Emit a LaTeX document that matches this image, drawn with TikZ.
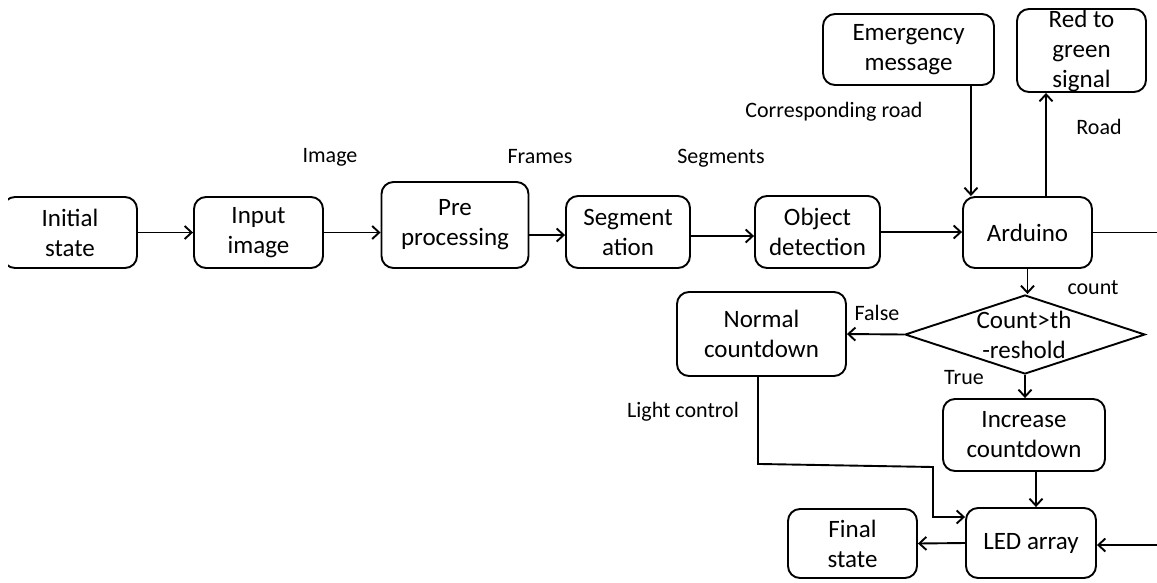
\documentclass[tikz,border=0pt]{standalone}
\usepackage{fontspec}
\setmainfont{Carlito}
\usetikzlibrary{shapes.geometric,arrows.meta}

\begin{document}
\begin{tikzpicture}[x=1pt, y=-1pt]
            \tikzstyle{block} = [draw, line width=1.9pt, rounded corners=12pt, inner sep=0pt, align=center, font=\fontsize{25}{30}\selectfont]
            \tikzstyle{decision} = [draw, diamond, line width=1.9pt, inner sep=0pt, minimum width=240pt, minimum height=79pt]
            \tikzstyle{tag} = [inner sep=0pt, font=\fontsize{22}{26}\selectfont]
            \tikzstyle{arrow} = [-{Straight Barb[length=7pt, width=13pt, line width=1.9pt]}, line width=1.9pt]
            \tikzstyle{line} = [line width=1.9pt]

            \useasboundingbox (0,0) rectangle (1157,582);
            \clip (8,0) rectangle (1157,582);

            % Main pipeline
            \node[block, minimum width=134pt, minimum height=71pt] (init) at (70,232.5) {Initial\\state};
            \node[block, minimum width=129pt, minimum height=71pt] (input) at (258.5,232.5) {Input\\image};
            \node[block, minimum width=147pt, minimum height=86pt] (pre) at (455,225) {Pre\\processing};
            \node[block, minimum width=124pt, minimum height=72pt] (seg) at (628,232) {Segment\\ation};
            \node[block, minimum width=125pt, minimum height=72pt] (obj) at (817.5,232) {Object\\detection};
            \node[block, minimum width=129pt, minimum height=71pt] (ard) at (1027.5,232.5) {Arduino};

            % Top boxes
            \node[block, minimum width=171pt, minimum height=71pt] (emerg) at (908.5,49.5) {Emergency\\message};
            \node[block, minimum width=129pt, minimum height=83pt] (red) at (1081.5,50.5) {Red to\\green\\signal};

            % Decision part
            \node[decision] (dia) at (1025,334.5) {};
            \node[block, draw=none, fill=none] (diatext) at (1024,335) {Count>th\\-reshold};
            \node[block, minimum width=169pt, minimum height=84pt] (norm) at (761.5,334) {Normal\\countdown};
            \node[block, minimum width=162pt, minimum height=72pt] (inc) at (1024,435) {Increase\\countdown};
            \node[block, minimum width=130pt, minimum height=70pt] (led) at (1031,543) {LED array};
            \node[block, minimum width=129pt, minimum height=69pt] (fin) at (852.5,543.5) {Final\\state};

            \coordinate (ardout) at (1160,232.5);
            \coordinate (ledin) at (1160,545);
            \coordinate (lc1) at (933,467);

            % Arrows
            \draw[arrow] (init) -- (input);
            \draw[arrow] (input.east) -- (input.east -| pre.west);
            \draw[arrow] ([yshift=-10pt]pre.east) -- ([yshift=-10pt]pre.east -| seg.west);
            \draw[arrow] ([yshift=-4pt]seg.east) -- ([yshift=-4pt]seg.east -| obj.west);
            \draw[arrow] (obj.east) -- (obj.east -| ard.west);
            \draw[arrow] ([xshift=-24pt]emerg.south east) -- ([xshift=-24pt]emerg.south east |- ard.north);
            \draw[arrow] ([xshift=18.5pt]ard.north) -- ([xshift=18.5pt]ard.north |- red.south);
            \draw[line] (ard.east) -- (ardout);
            \draw[arrow] (ard.south) -- (ard.south |- dia.north);
            \draw[arrow] (dia.west) -- (norm.east);
            \draw[arrow] (dia.south) -- (dia.south |- inc.north);
            \draw[arrow] ([xshift=12pt]inc.south) -- ([xshift=12pt]inc.south |- led.north);
            \draw[arrow] (led.west) -- (fin.east);
            \draw[arrow] (ledin) -- (ledin -| led.east);
            \draw[arrow] ([xshift=-3.5pt]norm.south) -- ++(0,87) -- (lc1) |- ([yshift=26pt]led.west);

            % Labels
            \node[tag] (limage) at (330,157) {Image};
            \node[tag] (lframes) at (540,157) {Frames};
            \node[tag] (lsegs) at (721,158) {Segments};
            \node[tag] (lroad) at (834,112) {Corresponding road};
            \node[tag] (lroad2) at (1099,127) {Road};
            \node[tag] (lcount) at (1093,288) {count};
            \node[tag] (lfalse) at (877,313) {False};
            \node[tag] (ltrue) at (964,378) {True};
            \node[tag] (llight) at (683,412) {Light control};
        \end{tikzpicture}
\end{document}
